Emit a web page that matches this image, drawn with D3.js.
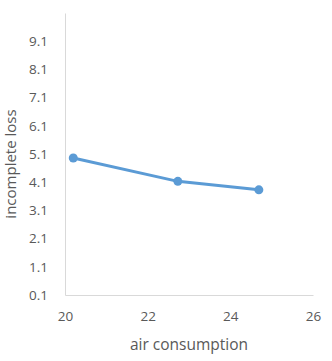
<!DOCTYPE html>
<html><head><meta charset="utf-8">
<script src="https://cdn.jsdelivr.net/npm/d3@7"></script>
<style>body{margin:0;background:#fff}svg{display:block}text{font-family:"Open Sans",sans-serif;fill:#595959}</style>
</head><body>
<svg id="c" width="332" height="361"></svg>
<script>
const xValues = [20.2, 22.73, 24.69];
const yValues = [4.96, 4.13, 3.83];
const xTicks = [20, 22, 24, 26];
const yTicks = [0.1, 1.1, 2.1, 3.1, 4.1, 5.1, 6.1, 7.1, 8.1, 9.1];
const xTitle = "air consumption";
const yTitle = "incomplete loss";

const svg = d3.select("#c");
const L = 65, R = 313, T = 13, B = 295;
const x = d3.scaleLinear().domain([20, 26]).range([L, R]);
const y = d3.scaleLinear().domain([0.1, 10.1]).range([B, T]);

const xa = svg.append("g").attr("transform", `translate(0,${B})`)
  .call(d3.axisBottom(x).tickValues(xTicks).tickSize(0).tickPadding(16).tickFormat(d3.format("d")));
const ya = svg.append("g").attr("transform", `translate(${L},0)`)
  .call(d3.axisLeft(y).tickValues(yTicks).tickSize(0).tickPadding(17).tickFormat(d3.format(".1f")));
[xa, ya].forEach(a => {
  a.select(".domain").attr("stroke", "#d9d9d9").attr("stroke-width", 1);
  a.selectAll("text").style("font-size", "13.5px").attr("fill", "#595959");
});

const line = d3.line().x((d, i) => x(xValues[i])).y(d => y(d));
svg.append("path").datum(yValues).attr("d", line)
  .attr("fill", "none").attr("stroke", "#5b9bd5").attr("stroke-width", 3).attr("stroke-linecap", "round");
svg.selectAll("circle.pt").data(yValues).enter().append("circle")
  .attr("cx", (d, i) => x(xValues[i])).attr("cy", d => y(d)).attr("r", 4.5)
  .attr("fill", "#5b9bd5");

svg.append("text").attr("x", (L + R) / 2).attr("y", 350).attr("text-anchor", "middle")
  .style("font-size", "15.5px").text(xTitle);
svg.append("text").attr("transform", `translate(16,${(T + B) / 2 + 10}) rotate(-90)`)
  .attr("text-anchor", "middle").style("font-size", "15px").text(yTitle);
</script>
</body></html>
